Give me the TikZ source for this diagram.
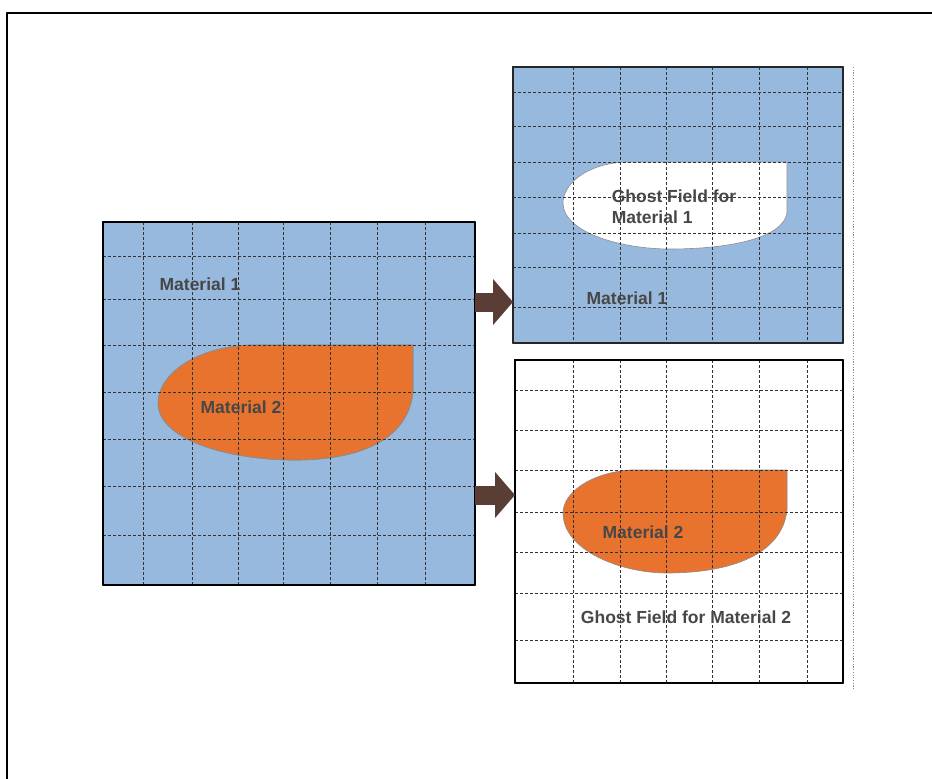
\documentclass[tikz,border=0pt]{standalone}
\usepackage{fontspec}
\setmainfont{Liberation Sans}
\usetikzlibrary{arrows.meta}
\definecolor{matblue}{HTML}{98B9DE}
\definecolor{matorange}{HTML}{E8732E}
\definecolor{arrowbrown}{HTML}{5A3E36}
\definecolor{labelgray}{HTML}{474747}
\tikzset{
  box/.style={draw=black,line width=1.6pt,inner sep=0pt,outer sep=0pt},
  gridline/.style={draw=black!80,line width=0.7pt,dash pattern=on 3pt off 2pt},
  blob/.style={draw=black!45,line width=0.6pt},
  fatarrow/.style={draw=arrowbrown,line width=19pt,-{Triangle[length=20pt,width=45pt]}},
  matlabel/.style={text=labelgray,font=\bfseries\fontsize{17.5}{21}\selectfont,inner sep=0pt}
}

\begin{document}
\begin{tikzpicture}
    [x=1pt,y=-1pt,line join=round]
    \useasboundingbox (0,0) rectangle (932,779);

    % frame
    \draw[line width=2pt] (7,779) -- (7,13) -- (932,13);
    \draw[black!45,line width=0.8pt,dash pattern=on 1.2pt off 1.5pt] (853,67) -- (853,690);

    % boxes
    \node[box,fill=matblue,minimum width=372pt,minimum height=363pt] (mixed) at (289,403.5) {};
    \node[box,draw=black!85,fill=matblue,minimum width=330pt,minimum height=276pt] (ghostone) at (678,205) {};
    \node[box,fill=white,minimum width=328pt,minimum height=323pt] (ghosttwo) at (679,521.5) {};

    % material 2 and ghost regions
    \fill[blob,fill=matorange] (413,345) -- (250,345) .. controls (195,347) and (158,375) .. (158,403)
        .. controls (158,440) and (230,461) .. (300,460) .. controls (360,459) and (408,440) .. (413,392) -- cycle;
    \fill[blob,fill=white] (787,162) -- (625,162) .. controls (585,164) and (563,185) .. (563,203)
        .. controls (563,232) and (620,249) .. (670,249) .. controls (730,249) and (783,238) .. (787,213) -- cycle;
    \fill[blob,fill=matorange] (787,470) -- (630,470) .. controls (590,473) and (563,493) .. (563,513)
        .. controls (563,550) and (620,573) .. (667,573) .. controls (730,573) and (782,555) .. (787,510) -- cycle;
    \draw[blob] (413,345) -- (250,345) .. controls (195,347) and (158,375) .. (158,403)
        .. controls (158,440) and (230,461) .. (300,460) .. controls (360,459) and (408,440) .. (413,392) -- cycle;

    % grids
    \foreach \x in {143,192,238,283,330,377,425}
      \draw[gridline] (\x,222) -- (\x,585);
    \foreach \y in {256,299,345,392,439,486,535}
      \draw[gridline] (103,\y) -- (475,\y);
    \foreach \x in {573,620,666,712,759,807}
      \draw[gridline] (\x,67) -- (\x,343);
    \foreach \y in {92,126,162,197,233,267,307}
      \draw[gridline] (513,\y) -- (843,\y);
    \foreach \x in {573,620,666,712,759,807}
      \draw[gridline] (\x,360) -- (\x,683);
    \foreach \y in {390,430,470,512,552,593,640}
      \draw[gridline] (515,\y) -- (843,\y);

    % box outlines again on top
    \draw[box] (mixed.south west) rectangle (mixed.north east);
    \draw[box,draw=black!85] (ghostone.south west) rectangle (ghostone.north east);
    \draw[box] (ghosttwo.south west) rectangle (ghosttwo.north east);

    % labels
    \node[matlabel] (mat1) at (200,284) {Material 1};
    \node[matlabel] (mat2) at (241,407) {Material 2};
    \node[matlabel,align=left] (ghost1) at (674,207) {Ghost Field for\\Material 1};
    \node[matlabel] (mat1b) at (627,298) {Material 1};
    \node[matlabel] (mat2b) at (643,532) {Material 2};
    \node[matlabel] (ghost2) at (686,617) {Ghost Field for Material 2};

    % arrows
    \coordinate (arrowtop) at (0,302);
    \coordinate (arrowbot) at (0,495);
    \draw[fatarrow] (mixed.east |- arrowtop) -- (ghostone.west |- arrowtop);
    \draw[fatarrow] (mixed.east |- arrowbot) -- (ghosttwo.west |- arrowbot);
  \end{tikzpicture}
\end{document}
